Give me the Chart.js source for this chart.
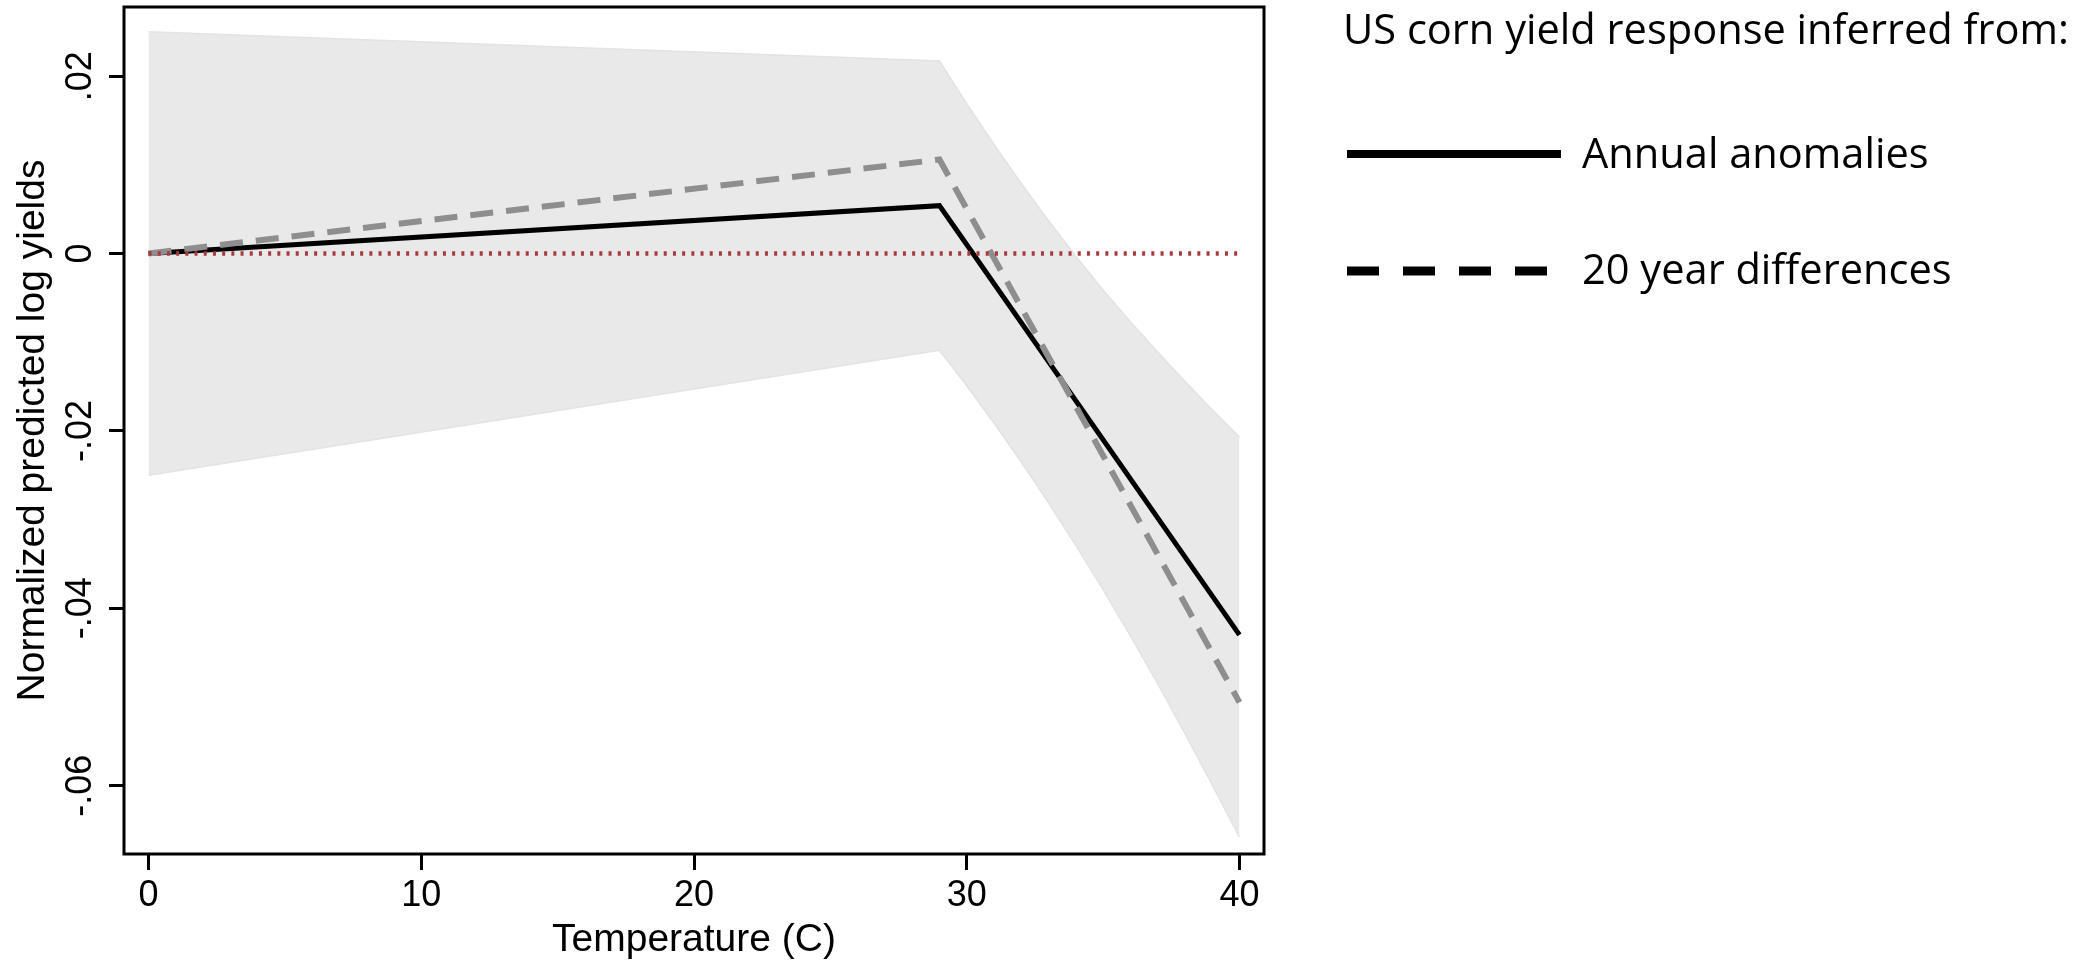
<!DOCTYPE html>
<html lang="en">
<head>
<meta charset="UTF-8">
<title>US corn yield response to temperature</title>
<script src="https://cdn.jsdelivr.net/npm/chart.js@4.4.1/dist/chart.umd.min.js"></script>
<style>
    * { margin: 0; padding: 0; box-sizing: border-box; }
    html, body { width: 2100px; height: 964px; background: #fff; overflow: hidden; }
    #wrap { position: relative; width: 2100px; height: 964px; }
</style>
</head>
<body>
<div id="wrap"><canvas id="yieldChart" width="2100" height="964"></canvas></div>
<script>
// piecewise-linear fits, kink at 29 C
const lineTemps = [0, 29, 40];
const annualAnomalies = [0, 0.0054, -0.0430];
const twentyYearDiffs = [0, 0.0106, -0.0506];

// confidence band around the annual-anomaly fit
const bandTemps = [0, 29, 30, 31, 32, 33, 34, 35, 36, 37, 38, 39, 40];
const bandUpper = [0.0250, 0.0217, 0.0169, 0.0123, 0.0079, 0.0037, -0.0003, -0.0041, -0.0077, -0.0111, -0.0144, -0.0176, -0.0207];
const bandLower = [-0.0250, -0.0109, -0.0149, -0.0191, -0.0235, -0.0281, -0.0329, -0.0379, -0.0431, -0.0485, -0.0541, -0.0599, -0.0658];

// reference line at zero
const zeroTemps = [0, 40];
const zeroLine = [0, 0];

const xTicks = [0, 10, 20, 30, 40];
const yTicks = [-0.06, -0.04, -0.02, 0, 0.02];
const yTickLabels = ['-.06', '-.04', '-.02', '0', '.02'];

const legendTitle = 'US corn yield response inferred from:';
const seriesNames = ['Annual anomalies', '20 year differences'];

const AXIS_FONT = 'Liberation Sans';
const LEGEND_FONT = 'Open Sans';

function pts(xs, ys) {
    return xs.map((x, i) => ({ x: x, y: ys[i] }));
}

// closed box around the plot region
const frame = {
    id: 'frame',
    afterDraw(chart) {
        const { ctx, chartArea: a } = chart;
        ctx.save();
        ctx.strokeStyle = '#000';
        ctx.lineWidth = 3;
        ctx.strokeRect(a.left, a.top, a.right - a.left, a.bottom - a.top);
        ctx.restore();
    }
};

// y tick labels are written vertically
const yLabels = {
    id: 'yLabels',
    afterDraw(chart) {
        const { ctx } = chart;
        const ys = chart.scales.y;
        ctx.save();
        ctx.fillStyle = '#000';
        ctx.font = '36px "' + AXIS_FONT + '"';
        ctx.textAlign = 'center';
        ctx.textBaseline = 'alphabetic';
        yTicks.forEach((v, i) => {
            ctx.save();
            ctx.translate(ys.right - 33, ys.getPixelForValue(v));
            ctx.rotate(-Math.PI / 2);
            ctx.fillText(yTickLabels[i], 0, 0);
            ctx.restore();
        });
        ctx.restore();
    }
};

// legend panel on the right
const sideLegend = {
    id: 'sideLegend',
    afterDraw(chart) {
        const { ctx } = chart;
        const x0 = 1345;
        ctx.save();
        ctx.fillStyle = '#000';
        ctx.strokeStyle = '#000';
        // size the font so the heading spans its box
        ctx.font = '40px "' + LEGEND_FONT + '"';
        const size = 40 * 726 / ctx.measureText(legendTitle).width;
        ctx.font = size.toFixed(2) + 'px "' + LEGEND_FONT + '"';
        ctx.textBaseline = 'alphabetic';
        ctx.fillText(legendTitle, x0 - 2, 44);

        const rows = [
            { y: 154, dash: [], width: 8, len: 214, base: 168 },
            { y: 271, dash: [32, 24], width: 9, len: 200, base: 284 }
        ];
        rows.forEach((r, i) => {
            ctx.lineWidth = r.width;
            ctx.setLineDash(r.dash);
            ctx.beginPath();
            ctx.moveTo(x0 + 2, r.y);
            ctx.lineTo(x0 + 2 + r.len, r.y);
            ctx.stroke();
            ctx.fillText(seriesNames[i], 1582, r.base);
        });
        ctx.restore();
    }
};

function drawChart() {
    Chart.defaults.font.family = AXIS_FONT;
    Chart.defaults.color = '#000';

    new Chart(document.getElementById('yieldChart'), {
        type: 'line',
        data: {
            datasets: [
                {
                    label: 'upper',
                    data: pts(bandTemps, bandUpper),
                    borderColor: '#e3e3e3',
                    borderWidth: 1.5,
                    backgroundColor: '#e9e9e9',
                    fill: '+1',
                    pointRadius: 0,
                    order: 5
                },
                {
                    label: 'lower',
                    data: pts(bandTemps, bandLower),
                    borderColor: '#e3e3e3',
                    borderWidth: 1.5,
                    fill: false,
                    pointRadius: 0,
                    order: 4
                },
                {
                    label: seriesNames[0],
                    data: pts(lineTemps, annualAnomalies),
                    borderColor: '#000',
                    borderWidth: 5,
                    fill: false,
                    pointRadius: 0,
                    order: 2
                },
                {
                    label: seriesNames[1],
                    data: pts(lineTemps, twentyYearDiffs),
                    borderColor: '#8e8e8e',
                    borderWidth: 6,
                    borderDash: [23, 13],
                    fill: false,
                    pointRadius: 0,
                    order: 1
                },
                {
                    label: 'zero',
                    data: pts(zeroTemps, zeroLine),
                    borderColor: '#a63a3e',
                    borderWidth: 4.5,
                    borderDash: [3, 6.2],
                    fill: false,
                    pointRadius: 0,
                    order: 0
                }
            ]
        },
        options: {
            responsive: false,
            animation: false,
            events: [],
            layout: { padding: { top: 7, right: 836, left: 0, bottom: 0 } },
            plugins: {
                legend: { display: false },
                tooltip: { enabled: false }
            },
            scales: {
                x: {
                    type: 'linear',
                    min: -0.9,
                    max: 40.9,
                    afterBuildTicks: s => { s.ticks = xTicks.map(v => ({ value: v })); },
                    afterFit: s => { s.height = 110; },
                    ticks: {
                        font: { size: 36 },
                        color: '#000',
                        padding: 4,
                        maxRotation: 0,
                        autoSkip: false
                    },
                    grid: {
                        drawOnChartArea: false,
                        drawTicks: true,
                        tickLength: 16,
                        tickWidth: 3,
                        tickColor: '#000'
                    },
                    border: { display: false },
                    title: {
                        display: true,
                        text: 'Temperature (C)',
                        font: { size: 39 },
                        color: '#000',
                        padding: { top: 0, bottom: 0 }
                    }
                },
                y: {
                    type: 'linear',
                    min: -0.0677,
                    max: 0.0278,
                    afterBuildTicks: s => { s.ticks = yTicks.map(v => ({ value: v })); },
                    afterFit: s => { s.width = 124; },
                    ticks: { display: false },
                    grid: {
                        drawOnChartArea: false,
                        drawTicks: true,
                        tickLength: 15,
                        tickWidth: 3,
                        tickColor: '#000'
                    },
                    border: { display: false },
                    title: {
                        display: true,
                        text: 'Normalized predicted log yields',
                        font: { size: 39 },
                        color: '#000',
                        padding: { top: 10, bottom: 0 }
                    }
                }
            }
        },
        plugins: [frame, yLabels, sideLegend]
    });
}

document.fonts.load('40px "' + LEGEND_FONT + '"').then(drawChart, drawChart);
</script>
</body>
</html>
